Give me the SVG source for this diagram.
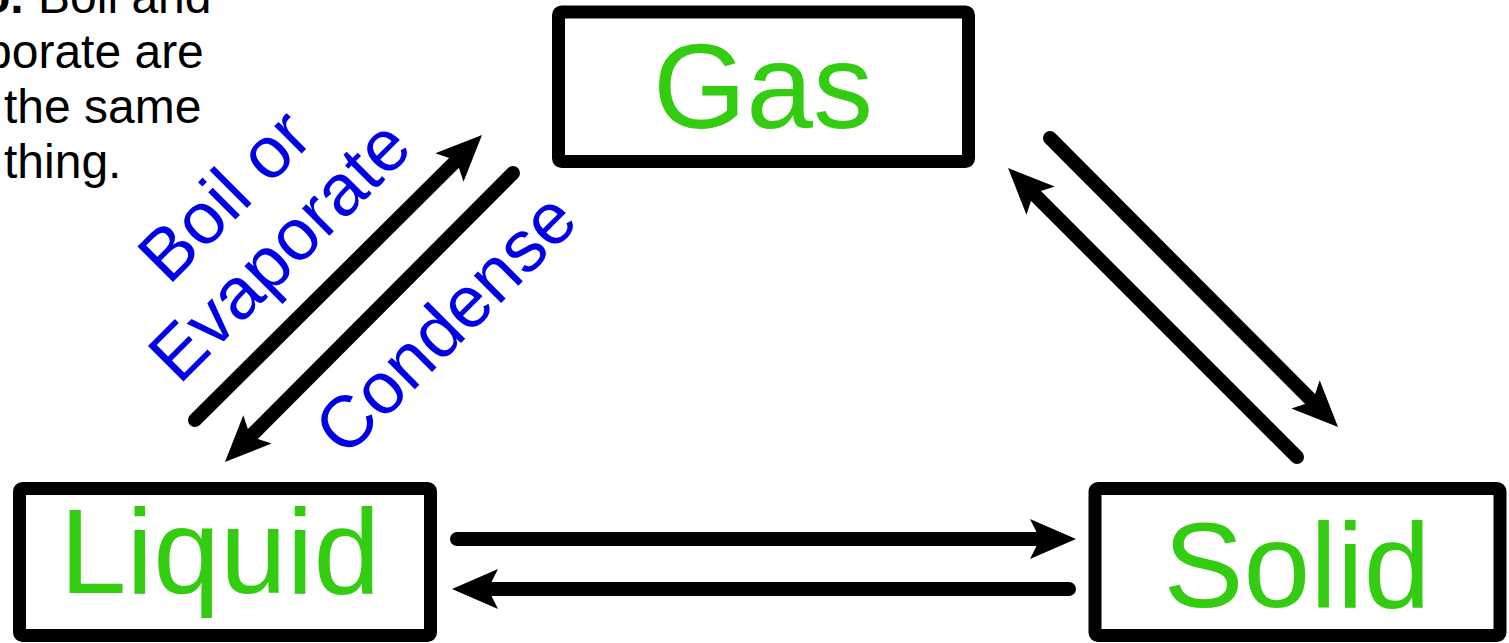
<svg xmlns="http://www.w3.org/2000/svg" width="1509" height="643" viewBox="0 0 1509 643">
  <style>
    .box { fill: #ffffff; stroke: #000000; stroke-width: 13; stroke-linejoin: round; }
    .state { font-family: "Liberation Sans", Arial, sans-serif; font-size: 120px; fill: #33cc11; text-anchor: middle; }
    .lbl { font-family: "Liberation Sans", Arial, sans-serif; font-size: 73px; fill: #0000e6; text-anchor: middle; }
    .note { font-family: "Liberation Sans", Arial, sans-serif; font-size: 48px; fill: #000000; }
    .arrow { fill: none; stroke: #000000; stroke-width: 14; stroke-linecap: round; marker-end: url(#head); }
  </style>
  <defs>
    <marker id="head" markerUnits="userSpaceOnUse" viewBox="-12 -22 50 44" markerWidth="50" markerHeight="44" refX="0" refY="0" orient="auto">
      <path d="M36,0 L-10,-20 L0,0 L-10,20 Z" fill="#000000"/>
    </marker>
  </defs>
  <rect width="1509" height="643" fill="#ffffff"/>

  <g id="note">
    <text class="note" y="13"><tspan font-weight="bold" x="-19">o.</tspan><tspan x="38">Boil and</tspan></text>
    <text class="note" x="-15" y="68">porate are</text>
    <text class="note" x="4" y="123">the same</text>
    <text class="note" x="4" y="178">thing.</text>
  </g>

  <g id="connectors">
    <line class="arrow" x1="195" y1="420" x2="456.5" y2="160.4"/>
    <line class="arrow" x1="513" y1="173" x2="250.4" y2="436.5"/>
    <line class="arrow" x1="1050" y1="138" x2="1312.6" y2="401.5"/>
    <line class="arrow" x1="1297" y1="457" x2="1033.5" y2="193.5"/>
    <line class="arrow" x1="457" y1="539" x2="1040" y2="539"/>
    <line class="arrow" x1="1069" y1="589" x2="488" y2="589"/>
  </g>

  <g id="labels">
    <text class="lbl" transform="translate(242,213) rotate(-45)">Boil or</text>
    <text class="lbl" transform="translate(297,268) rotate(-45)">Evaporate</text>
    <text class="lbl" transform="translate(463,341) rotate(-45)">Condense</text>
  </g>

  <g id="gas">
    <rect class="box" x="558.5" y="12" width="410" height="149.5" rx="3"/>
    <text class="state" x="763" y="128">Gas</text>
  </g>
  <g id="liquid">
    <rect class="box" x="19.5" y="488.5" width="411" height="147" rx="3"/>
    <text class="state" x="220" y="593">Liquid</text>
  </g>
  <g id="solid">
    <rect class="box" x="1095" y="488.5" width="405" height="147" rx="3"/>
    <text class="state" x="1297" y="607">Solid</text>
  </g>
</svg>
